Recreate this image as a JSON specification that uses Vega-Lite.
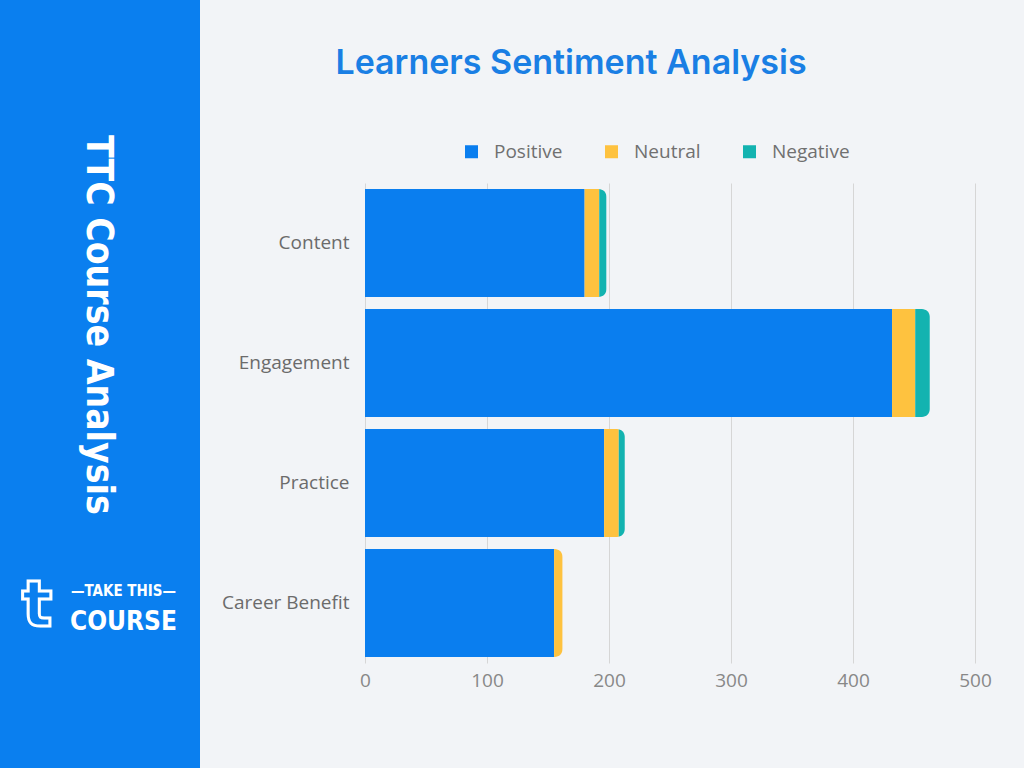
{
  "$schema": "https://vega.github.io/schema/vega-lite/v6.json",
  "background": "#F2F4F7",
  "width": 610,
  "height": 480,
  "autosize": {"type": "none"},
  "padding": {"left": 365, "top": 183, "right": 49, "bottom": 105},
  "config": {"view": {"stroke": null}, "font": "Open Sans"},
  "title": {"text": "Learners Sentiment Analysis", "fontSize": 34, "font": "Inter", "fontWeight": 600, "color": "#1A7FE4", "anchor": "middle", "frame": "group", "dx": -99, "baseline": "alphabetic", "offset": -108},
  "resolve": {"scale": {"x": "independent", "y": "independent"}, "axis": {"x": "independent", "y": "independent"}},
  "layer": [
    {
      "data": {"values": [{"panel": "TTC"}]},
      "layer": [
        {
          "mark": {"type": "rect", "color": "#0A7FEF"},
          "encoding": {
            "x": {"datum": 0, "type": "quantitative", "scale": {"domain": [0, 1], "range": [-365, -165], "zero": false, "nice": false}, "axis": null},
            "x2": {"datum": 1},
            "y": {"datum": 0, "type": "quantitative", "scale": {"domain": [0, 1], "range": [-183, 585], "zero": false, "nice": false}, "axis": null},
            "y2": {"datum": 1}
          }
        },
        {
          "mark": {"type": "text", "text": "TTC Course Analysis", "angle": 90, "font": "DejaVu Sans Condensed, Roboto", "fontWeight": "bold", "fontSize": 37, "color": "white", "align": "center", "baseline": "middle"},
          "encoding": {
            "x": {"datum": 0.49, "type": "quantitative"},
            "y": {"datum": 0.423, "type": "quantitative"}
          }
        },
        {
          "mark": {"type": "text", "text": "t", "font": "DejaVu Sans", "fontWeight": "bold", "fontSize": 64, "color": "#0A7FEF", "stroke": "white", "strokeWidth": 3, "align": "center", "baseline": "middle"},
          "encoding": {
            "x": {"datum": 0.185, "type": "quantitative"},
            "y": {"datum": 0.79, "type": "quantitative"}
          }
        },
        {
          "mark": {"type": "text", "text": "\u2014TAKE THIS\u2014", "font": "DejaVu Sans Condensed, Roboto", "fontWeight": "bold", "fontSize": 15, "color": "white", "align": "center", "baseline": "middle"},
          "encoding": {
            "x": {"datum": 0.6175, "type": "quantitative"},
            "y": {"datum": 0.7695, "type": "quantitative"}
          }
        },
        {
          "mark": {"type": "text", "text": "COURSE", "font": "DejaVu Sans Condensed, Roboto", "fontWeight": "bold", "fontSize": 26, "color": "white", "align": "center", "baseline": "middle"},
          "encoding": {
            "x": {"datum": 0.6175, "type": "quantitative"},
            "y": {"datum": 0.81, "type": "quantitative"}
          }
        }
      ]
    },
    {
      "data": {"values": [
        {"category": "Content", "sentiment": "Positive", "value": 180},
        {"category": "Content", "sentiment": "Neutral", "value": 12},
        {"category": "Content", "sentiment": "Negative", "value": 6},
        {"category": "Engagement", "sentiment": "Positive", "value": 432},
        {"category": "Engagement", "sentiment": "Neutral", "value": 19},
        {"category": "Engagement", "sentiment": "Negative", "value": 12},
        {"category": "Practice", "sentiment": "Positive", "value": 196},
        {"category": "Practice", "sentiment": "Neutral", "value": 12},
        {"category": "Practice", "sentiment": "Negative", "value": 5},
        {"category": "Career Benefit", "sentiment": "Positive", "value": 155},
        {"category": "Career Benefit", "sentiment": "Neutral", "value": 7},
        {"category": "Career Benefit", "sentiment": "Negative", "value": 0}
      ]},
      "mark": {"type": "bar", "cornerRadiusEnd": 8},
      "encoding": {
        "y": {"field": "category", "type": "nominal", "sort": ["Content", "Engagement", "Practice", "Career Benefit"],
              "scale": {"paddingInner": 0.1, "paddingOuter": 0.05},
              "axis": {"orient": "left", "title": null, "labelFontSize": 19, "labelFont": "Open Sans", "labelColor": "#6B6B6B", "labelPadding": 16, "ticks": false, "tickSize": 0, "domain": false}},
        "x": {"field": "value", "type": "quantitative", "stack": "zero",
              "scale": {"domain": [0, 500], "nice": false},
              "axis": {"orient": "bottom", "title": null, "values": [0, 100, 200, 300, 400, 500], "labelFlush": false, "grid": true, "gridColor": "#D6D6D6", "domain": false, "ticks": false, "tickSize": 0, "labelFontSize": 19, "labelFont": "Open Sans", "labelColor": "#888888", "labelPadding": 8}},
        "color": {"field": "sentiment", "type": "nominal",
                  "scale": {"domain": ["Positive", "Neutral", "Negative"], "range": ["#0A7EEF", "#FEC23F", "#13B3B0"]},
                  "legend": {"orient": "none", "legendX": 97, "legendY": -41, "direction": "horizontal", "title": null, "symbolType": "square", "symbolSize": 169, "symbolStrokeWidth": 0, "labelFontSize": 19, "labelFont": "Open Sans", "labelColor": "#707070", "labelOffset": 13, "columnPadding": 39, "padding": 0}},
        "order": {"field": "sentiment", "sort": "descending"}
      }
    }
  ]
}
